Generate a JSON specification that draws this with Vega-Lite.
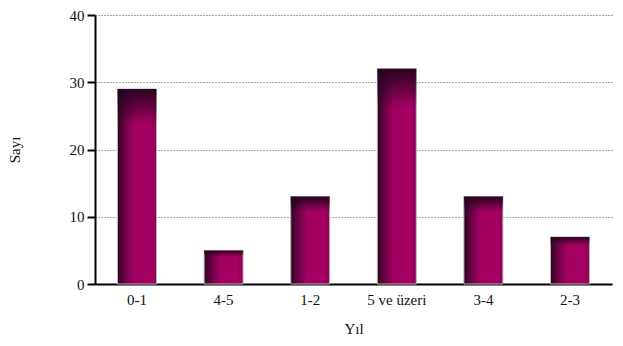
{
  "$schema": "https://vega.github.io/schema/vega-lite/v6.json",
  "width": 517,
  "height": 269,
  "autosize": {"type": "none"},
  "padding": {"left": 95, "top": 15, "right": 11, "bottom": 62},
  "background": "white",
  "config": {
    "font": "Liberation Serif",
    "view": {"stroke": null}
  },
  "data": {
    "values": [
      {"yil": "0-1", "sayi": 29},
      {"yil": "4-5", "sayi": 5},
      {"yil": "1-2", "sayi": 13},
      {"yil": "5 ve üzeri", "sayi": 32},
      {"yil": "3-4", "sayi": 13},
      {"yil": "2-3", "sayi": 7}
    ]
  },
  "encoding": {
    "x": {
      "field": "yil",
      "type": "nominal",
      "sort": null,
      "scale": {"paddingInner": 0.55, "paddingOuter": 0.26},
      "axis": {
        "title": "Yıl",
        "labelAngle": 0,
        "labelFontSize": 15,
        "labelColor": "#111",
        "titleFontSize": 15,
        "titleFontWeight": "normal",
        "titleColor": "#111",
        "titlePadding": 14,
        "domainColor": "#000",
        "domainWidth": 2,
        "ticks": false,
        "labelPadding": 8
      }
    },
    "y": {
      "field": "sayi",
      "type": "quantitative",
      "scale": {"domain": [0, 40]},
      "axis": {
        "title": "Sayı",
        "values": [0, 10, 20, 30, 40],
        "labelFontSize": 15,
        "labelColor": "#111",
        "titleFontSize": 15,
        "titleFontWeight": "normal",
        "titleColor": "#111",
        "titlePadding": 47,
        "domainColor": "#000",
        "domainWidth": 2,
        "tickColor": "#000",
        "tickWidth": 2,
        "tickSize": 8,
        "labelPadding": 3,
        "grid": true,
        "gridColor": "#555",
        "gridDash": [1, 2],
        "gridWidth": 1
      }
    }
  },
  "layer": [
    {
      "mark": {
        "type": "bar",
        "stroke": "#b8b8b8",
        "strokeWidth": 1,
        "color": {
          "gradient": "linear",
          "x1": 0, "y1": 0, "x2": 1, "y2": 0,
          "stops": [
            {"offset": 0, "color": "#2a0520"},
            {"offset": 0.2, "color": "#6e0347"},
            {"offset": 0.42, "color": "#a00060"},
            {"offset": 0.85, "color": "#a80064"},
            {"offset": 1, "color": "#8c0053"}
          ]
        }
      }
    },
    {
      "mark": {
        "type": "bar",
        "strokeWidth": 0,
        "color": {
          "gradient": "linear",
          "x1": 0, "y1": 0, "x2": 0, "y2": 1,
          "stops": [
            {"offset": 0, "color": "rgba(35,4,28,0.95)"},
            {"offset": 0.07, "color": "rgba(35,4,28,0.6)"},
            {"offset": 0.18, "color": "rgba(35,4,28,0)"},
            {"offset": 1, "color": "rgba(35,4,28,0)"}
          ]
        }
      }
    }
  ]
}
